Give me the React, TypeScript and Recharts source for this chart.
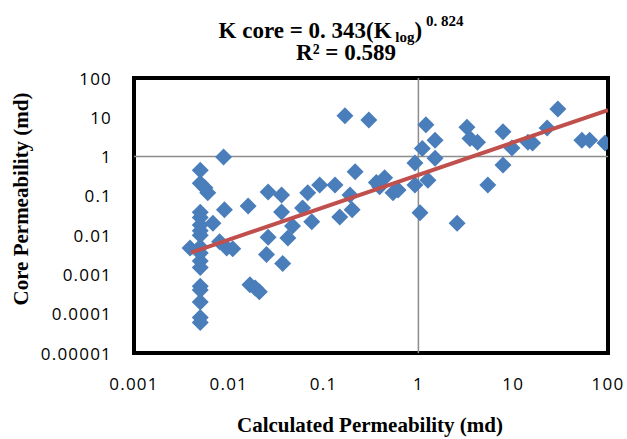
import { ScatterChart, Scatter, XAxis, YAxis, ReferenceLine, ReferenceArea } from "recharts";

// calculated (log) permeability, md
const calcPerm = [
  0.005, 0.005, 0.0056, 0.006, 0.005, 0.005, 0.005, 0.005, 0.005, 0.005,
  0.005, 0.005, 0.005, 0.005, 0.005, 0.005, 0.005, 0.005, 0.0039,
  0.0088, 0.009, 0.0068, 0.008, 0.0095, 0.011, 0.016, 0.0167, 0.019, 0.021,
  0.026, 0.026, 0.025, 0.036, 0.036, 0.037, 0.042, 0.047, 0.06, 0.068, 0.075,
  0.091, 0.132, 0.148, 0.19, 0.2, 0.215, 0.168, 0.3, 0.36, 0.39, 0.44, 0.54,
  0.61, 0.92, 0.92, 1.04, 1.1, 1.2, 1.5, 1.5, 1.26, 2.56, 3.25, 3.5, 4.2, 5.4,
  7.8, 7.8, 9.7, 14.3, 16, 22.8, 29.6, 53, 64, 93,
];
// core permeability, md
const corePerm = [
  0.45, 0.21, 0.16, 0.12, 0.038, 0.028, 0.018, 0.013, 0.01, 0.005,
  0.0035, 0.0022, 0.0015, 0.0005, 0.0004, 0.0002, 0.00008, 0.00006, 0.0047,
  0.98, 0.044, 0.02, 0.0068, 0.0047, 0.0045, 0.055, 0.00055, 0.00045, 0.00036,
  0.125, 0.0089, 0.0032, 0.105, 0.039, 0.0019, 0.0085, 0.017, 0.049, 0.12, 0.022,
  0.19, 0.19, 0.029, 0.105, 0.044, 0.41, 11, 8.5, 0.22, 0.17, 0.29, 0.12,
  0.14, 0.69, 0.19, 0.037, 1.6, 6.5, 2.6, 0.91, 0.25, 0.02, 5.6, 2.9, 2.3, 0.19,
  4.3, 0.61, 1.66, 2.3, 2.2, 5.3, 16.2, 2.6, 2.6, 2.2,
];

// power trend line end points
const trendX = [0.004, 100];
const trendY = [0.0036, 15.3];

const xTicks = [0.001, 0.01, 0.1, 1, 10, 100];
const xTickLabels = ["0.001", "0.01", "0.1", "1", "10", "100"];
const yTicks = [0.00001, 0.0001, 0.001, 0.01, 0.1, 1, 10, 100];
const yTickLabels = ["0.00001", "0.0001", "0.001", "0.01", "0.1", "1", "10", "100"];

const BLUE = "#4A7EBB";
const RED = "#C0504D";
const SERIF = "'Liberation Serif', 'Times New Roman', serif";
const SANS = "'Open Sans', sans-serif";

const points = calcPerm.map((x, i) => ({ x, y: corePerm[i] }));
const trend = trendX.map((x, i) => ({ x, y: trendY[i] }));

const Diamond = (props: any) => {
  const { cx, cy } = props;
  if (cx == null || cy == null) return <g />;
  const r = 8.5;
  return <path d={`M${cx},${cy - r}L${cx + r},${cy}L${cx},${cy + r}L${cx - r},${cy}Z`} fill={BLUE} />;
};

const XTick = (props: any) => {
  const i = xTicks.indexOf(props.payload.value);
  return (
    <text x={props.x} y={383} textAnchor="middle" dominantBaseline="central" fontFamily={SANS} fontSize={17} letterSpacing={1.2} fill="#000">
      {xTickLabels[i]}
    </text>
  );
};

const YTick = (props: any) => {
  const i = yTicks.indexOf(props.payload.value);
  return (
    <text x={112} y={props.y} textAnchor="end" dominantBaseline="central" fontFamily={SANS} fontSize={17} letterSpacing={1.2} fill="#000">
      {yTickLabels[i]}
    </text>
  );
};

export default function App() {
  return (
    <div style={{ position: "absolute", left: 0, top: 0, width: 627, height: 439, background: "#fff" }}>
      <ScatterChart width={627} height={439} margin={{ top: 78, right: 19, bottom: 0, left: 0 }}>
        <XAxis
          type="number"
          dataKey="x"
          scale="log"
          domain={[0.001, 100]}
          ticks={xTicks}
          allowDataOverflow
          height={86}
          axisLine={false}
          tickLine={false}
          tick={<XTick />}
        />
        <YAxis
          type="number"
          dataKey="y"
          scale="log"
          domain={[0.00001, 100]}
          ticks={yTicks}
          allowDataOverflow
          width={134}
          axisLine={false}
          tickLine={false}
          tick={<YTick />}
        />
        <ReferenceLine x={1} stroke="#8C8C8C" strokeWidth={1.5} />
        <ReferenceLine y={1} stroke="#8C8C8C" strokeWidth={1.5} />
        <Scatter data={points} shape={<Diamond />} isAnimationActive={false} />
        <Scatter data={trend} line={{ stroke: RED, strokeWidth: 4 }} shape={() => <g />} isAnimationActive={false} />
        <ReferenceArea x1={0.001} x2={100} y1={0.00001} y2={100} fill="none" stroke="#000" strokeWidth={4} />
      </ScatterChart>
      <svg width={627} height={439} style={{ position: "absolute", left: 0, top: 0, pointerEvents: "none" }}>
        <text x={341} y={38} textAnchor="middle" fontFamily={SERIF} fontWeight="bold" fontSize={23} fill="#000">
          {"K core = 0. 343(K"}
          <tspan fontSize={15} dy={4}>{"\u00A0log"}</tspan>
          <tspan fontSize={23} dy={-4}>{")"}</tspan>
          <tspan fontSize={15} dy={-12}>{"\u00A00. 824"}</tspan>
        </text>
        <text x={346} y={60} textAnchor="middle" fontFamily={SERIF} fontWeight="bold" fontSize={23} fill="#000">
          R² = 0.589
        </text>
        <text x={370} y={432} textAnchor="middle" fontFamily={SERIF} fontWeight="bold" fontSize={21} fill="#000">
          Calculated Permeability (md)
        </text>
        <text
          x={21}
          y={199}
          textAnchor="middle"
          dominantBaseline="central"
          transform="rotate(-90, 21, 199)"
          fontFamily={SERIF}
          fontWeight="bold"
          fontSize={21}
          fill="#000"
        >
          Core Permeability (md)
        </text>
      </svg>
    </div>
  );
}
